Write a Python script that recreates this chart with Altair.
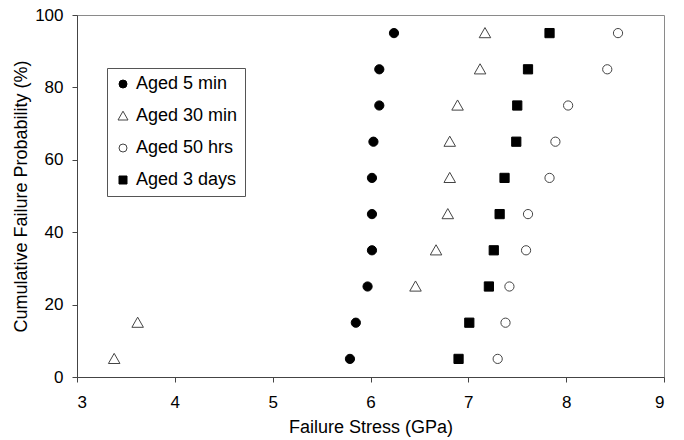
import altair as alt
import pandas as pd

probability = [5, 15, 25, 35, 45, 55, 65, 75, 85, 95]
aged_5min = [5.79, 5.85, 5.97, 6.015, 6.015, 6.015, 6.03, 6.09, 6.09, 6.24]
aged_30min = [3.38, 3.62, 6.46, 6.67, 6.79, 6.81, 6.81, 6.89, 7.12, 7.17]
aged_50hrs = [7.30, 7.38, 7.42, 7.59, 7.61, 7.83, 7.89, 8.02, 8.42, 8.53]
aged_3days = [6.90, 7.01, 7.21, 7.26, 7.32, 7.37, 7.49, 7.50, 7.61, 7.83]

series_names = ["Aged 5 min", "Aged 30 min", "Aged 50 hrs", "Aged 3 days"]
series_values = [aged_5min, aged_30min, aged_50hrs, aged_3days]

rows = []
for name, vals in zip(series_names, series_values):
    for p, v in zip(probability, vals):
        rows.append({"series": name, "stress": v, "prob": p})
df = pd.DataFrame(rows)

FONT = "Liberation Sans"
TRIANGLE = "M0,-1.2L1.25,1L-1.25,1Z"

legend = alt.Legend(
    title=None, orient="none", legendX=30, legendY=53,
    labelFont=FONT, labelFontSize=18, labelColor="black",
    strokeColor="#555555", padding=7, rowPadding=14,
    symbolSize=64, labelOffset=4, symbolStrokeWidth=1,
    fillColor="white",
)

chart = alt.Chart(df).mark_point(filled=True, size=85, opacity=1, strokeWidth=1).encode(
    x=alt.X("stress:Q", title="Failure Stress (GPa)",
            scale=alt.Scale(domain=[3, 9], nice=False, zero=False),
            axis=alt.Axis(values=[3, 4, 5, 6, 7, 8, 9], grid=False, labelPadding=12,
                          titlePadding=8)),
    y=alt.Y("prob:Q", title="Cumulative Failure Probability (%)",
            scale=alt.Scale(domain=[0, 100], nice=False),
            axis=alt.Axis(values=[0, 20, 40, 60, 80, 100], grid=False, labelPadding=9,
                          titlePadding=4)),
    shape=alt.Shape("series:N", scale=alt.Scale(domain=series_names,
                    range=["circle", TRIANGLE, "circle", "square"]), legend=legend),
    fill=alt.Fill("series:N", scale=alt.Scale(domain=series_names,
                  range=["black", "white", "white", "black"]), legend=legend),
    stroke=alt.Stroke("series:N", scale=alt.Scale(domain=series_names,
                      range=["black", "#444444", "#444444", "black"]), legend=legend),
).properties(
    width=587, height=362,
    autosize=alt.AutoSizeParams(type="none"),
    padding={"left": 77, "top": 15, "right": 20, "bottom": 63},
).configure_view(
    stroke="#8a8a8a", strokeWidth=1
).configure_axis(
    labelFont=FONT, titleFont=FONT, labelFontSize=17, titleFontSize=18,
    labelColor="black", titleColor="black", titleFontWeight="normal",
    domainColor="#444444", tickColor="#444444", tickSize=5,
)

chart.save("out.html", embed_options={"renderer": "svg", "actions": False})
